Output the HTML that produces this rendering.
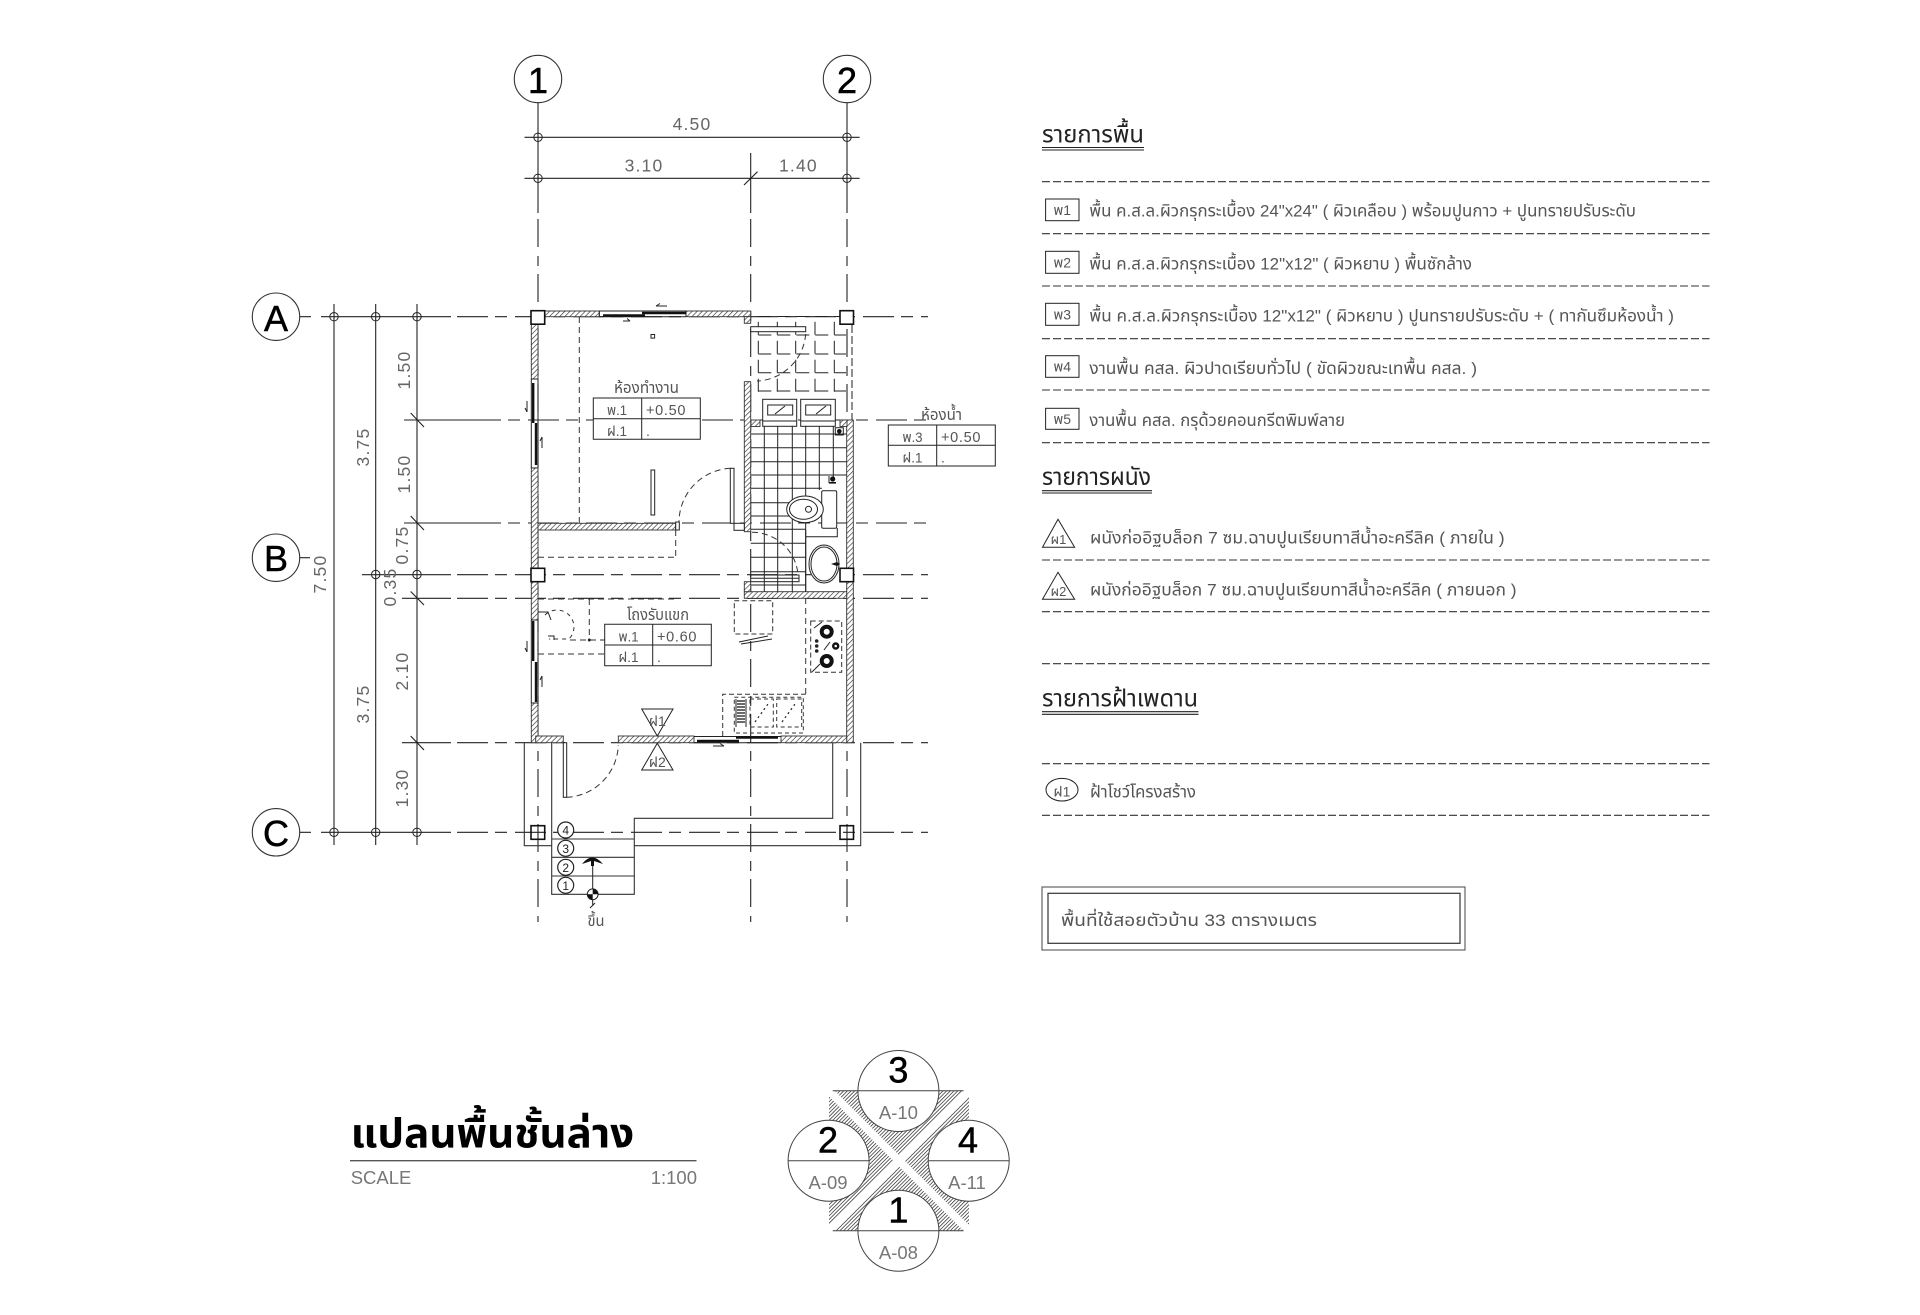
<!DOCTYPE html>
<html lang="th"><head><meta charset="utf-8"><title>แปลนพื้นชั้นล่าง</title>
<style>
html,body{margin:0;padding:0;background:#fff;width:1920px;height:1315px;overflow:hidden}
svg{display:block}
text{font-family:"Liberation Sans","Noto Sans Thai","Loma","Garuda","Norasi","Waree","Tlwg Typo","DejaVu Sans","Noto Sans CJK SC",sans-serif;fill:#555}
.l{fill:none;stroke:#333;stroke-width:1.1}
.k{fill:none;stroke:#222;stroke-width:1}
.g{fill:none;stroke:#222;stroke-width:1.1}
.gh{stroke-dasharray:31 7 12 8}
.gv{stroke-dasharray:28 9 10 8}
.d{fill:none;stroke:#333;stroke-width:1;stroke-dasharray:6 4}
.ld{fill:none;stroke:#333;stroke-width:1.1;stroke-dasharray:8 3}
.w{fill:url(#h);stroke:#333;stroke-width:.9}
.dim{font-size:17.5px;fill:#666;text-anchor:middle;letter-spacing:1.2px}
.big{font-size:36px;fill:#000;text-anchor:middle;stroke:#000;stroke-width:.5}
.t{font-size:17px;fill:#555}
.h{font-size:24px;fill:#222}
.cell{font-size:14px;fill:#444}
.mid{text-anchor:middle}
.b{fill:#111;stroke:#111}
</style></head><body>
<svg xmlns="http://www.w3.org/2000/svg" width="1920" height="1315" viewBox="0 0 1920 1315">
<defs>
<pattern id="h" width="3.6" height="3.6" patternUnits="userSpaceOnUse" patternTransform="rotate(45)"><rect width="3.6" height="3.6" fill="#fff"/><line x1="0" y1="0" x2="0" y2="3.6" stroke="#333" stroke-width="1.3"/></pattern>
<pattern id="h2" width="2.6" height="2.6" patternUnits="userSpaceOnUse" patternTransform="rotate(45)"><rect width="2.6" height="2.6" fill="#fff"/><line x1="0" y1="0" x2="0" y2="2.6" stroke="#333" stroke-width="1.5"/></pattern>
</defs>
<rect width="1920" height="1315" fill="#fff"/>

<!-- grid lines: horizontal -->
<g class="g">
<path d="M300 316.7H311M321 316.7H451" />
<path class="gh" d="M451 316.7H928" stroke-dashoffset="-6"/>
<path d="M404 420H470"/><path class="gh" d="M470 420H928"/>
<path d="M404 523H470"/><path class="gh" d="M470 523H928"/>
<path d="M300 557.7H310M310 557.7"/>
<path d="M362 574.7H451"/><path class="gh" d="M451 574.7H928" stroke-dashoffset="-6"/>
<path d="M402 598.3H451"/><path class="gh" d="M451 598.3H928" stroke-dashoffset="-6"/>
<path d="M402 742.7H451"/><path class="gh" d="M451 742.7H928" stroke-dashoffset="-6"/>
<path d="M300 832.3H311M321 832.3H451"/>
<path class="gh" d="M451 832.3H928" stroke-dashoffset="-6"/>
<!-- vertical -->
<path d="M538 103V213"/><path class="gv" d="M538 213V922" stroke-dashoffset="-6"/>
<path d="M847 103V213"/><path class="gv" d="M847 213V922" stroke-dashoffset="-6"/>
<path d="M750.7 153V213"/><path class="gv" d="M750.7 213V922" stroke-dashoffset="-6"/>
<!-- dims -->
<path d="M524.5 137.3H859.6M524.5 178.3H859.6"/>
<path d="M334 304V845M375.7 304V845M417 304V845"/>
<path d="M744 185L757.5 171.7M410.7 413L424 427M410.7 516L424 530M410.7 591.5L424 605M410.7 736L424 750"/>
</g>
<g class="k" stroke-width=".9">
<circle cx="538" cy="137.3" r="4.2"/><circle cx="847" cy="137.3" r="4.2"/><circle cx="538" cy="178.3" r="4.2"/><circle cx="847" cy="178.3" r="4.2"/>
<circle cx="334" cy="316.7" r="4.2"/><circle cx="375.7" cy="316.7" r="4.2"/><circle cx="417" cy="316.7" r="4.2"/>
<circle cx="375.7" cy="574.5" r="4.2"/><circle cx="417" cy="574.5" r="4.2"/>
<circle cx="334" cy="832.3" r="4.2"/><circle cx="375.7" cy="832.3" r="4.2"/><circle cx="417" cy="832.3" r="4.2"/>
</g>
<!-- bubbles -->
<g fill="#fff" stroke="#333" stroke-width="1.1">
<circle cx="538" cy="79" r="23.7"/><circle cx="847" cy="79" r="23.7"/>
<circle cx="276" cy="316.7" r="23.7"/><circle cx="276" cy="557.7" r="23.7"/><circle cx="276" cy="832.3" r="23.7"/>
</g>
<text class="big" x="538" y="93">1</text><text class="big" x="847" y="93">2</text>
<text class="big" x="276" y="331">A</text><text class="big" x="276" y="571">B</text><text class="big" x="276" y="846">C</text>

<!-- dimension text -->
<text class="dim" x="692" y="130">4.50</text>
<text class="dim" x="644" y="171.7">3.10</text>
<text class="dim" x="798.4" y="171.7">1.40</text>
<text class="dim" transform="translate(326,574) rotate(-90)">7.50</text>
<text class="dim" transform="translate(369,447) rotate(-90)">3.75</text>
<text class="dim" transform="translate(369,704) rotate(-90)">3.75</text>
<text class="dim" transform="translate(410,370) rotate(-90)">1.50</text>
<text class="dim" transform="translate(410,474) rotate(-90)">1.50</text>
<text class="dim" transform="translate(408,545) rotate(-90)">0.75</text>
<text class="dim" transform="translate(396,587) rotate(-90)">0.35</text>
<text class="dim" transform="translate(408,671) rotate(-90)">2.10</text>
<text class="dim" transform="translate(408,788) rotate(-90)">1.30</text>

<!-- bathroom tiles lower -->
<g class="k" stroke="#222">
<path d="M764.3 426V591.7M777.7 426V591.7M792.3 426V591.7M805.7 426V591.7M819.3 426V490M833.3 426V480"/>
<path d="M750.7 434H846.7M750.7 447.7H846.7M750.7 461.7H846.7M750.7 475H846.7M750.7 488.3H822M750.7 502.7H790M750.7 516H790M750.7 529.3H805.7M750.7 543.3H805.7M750.7 557.3H805.7M750.7 571.7H805.7M750.7 585H805.7"/>
<!-- upper bathroom tiles -->
<path stroke-dasharray="13 6" d="M758.3 321.7V392M777.3 321.7V392M795.7 321.7V392M815 321.7V392M834.3 321.7V392"/>
<path stroke-dasharray="13 6" d="M758.3 316.5H846M758.3 335H846M758.3 354H846M758.3 372.7H846M758.3 391H846"/>
<path stroke-dasharray="8 3" d="M852 325V420"/>
</g>
<!-- walls -->
<g class="w">
<rect x="531.3" y="324" width="6.7" height="55"/>
<rect x="531.3" y="468" width="6.7" height="100"/>
<rect x="531.3" y="581.7" width="6.7" height="38.3"/>
<rect x="531.3" y="703" width="6.7" height="39.7"/>
<rect x="544.7" y="311" width="54.6" height="5.7"/>
<rect x="686" y="311" width="64.7" height="5.7"/>
<rect x="744.3" y="316.7" width="6.4" height="6.6"/>
<rect x="744.3" y="381.7" width="6.4" height="150"/>
<rect x="538" y="523.3" width="137.7" height="6.7"/>
<rect x="846.7" y="420" width="6.6" height="149"/>
<rect x="846.7" y="581.7" width="6.6" height="161"/>
<rect x="751" y="420" width="9" height="6.5"/>
<rect x="840" y="420" width="7" height="6.5"/>
<rect x="744.3" y="591.7" width="102.4" height="6.6"/>
<rect x="744.3" y="581.7" width="6.4" height="10"/>
<rect x="535.7" y="736" width="27.6" height="6.7"/>
<rect x="618.3" y="736" width="75.7" height="6.7"/>
<rect x="781" y="736" width="65.7" height="6.7"/>
</g>
<g class="k">
<rect x="675.7" y="522" width="3.6" height="8" fill="#fff"/>
<rect x="734" y="523.3" width="10.3" height="7" fill="#fff"/>
<path d="M531.3 379H538M531.3 468H538M531.3 620H538M531.3 703H538"/>
</g>
<!-- columns -->
<g fill="none" stroke="#111" stroke-width="1.6">
<rect x="531" y="310.7" width="13.7" height="13.5" fill="#fff"/>
<rect x="840" y="310.7" width="13.5" height="13.5" fill="#fff"/>
<rect x="531" y="568.3" width="13.7" height="13.4" fill="#fff"/>
<rect x="840" y="568.3" width="13.5" height="13.4" fill="#fff"/>
<rect x="531" y="825.7" width="13.7" height="13.6"/>
<rect x="840" y="825.7" width="13.5" height="13.6"/>
</g>
<!-- windows -->
<g class="k">
<path d="M599.3 311H686M599.3 316.7H686M599.3 311V316.7M686 311V316.7"/>
<path d="M531.3 379V468M538 379V468"/>
<path d="M531.3 620V703M538 620V703"/>
<path d="M694 736.5H781M694 742.7H781"/>
</g>
<g fill="none" stroke="#111" stroke-width="2.4">
<path d="M603 315.4H645" /><path d="M642 313H686" />
<path d="M533.2 383V423"/><path d="M536 423V465"/>
<path d="M533.2 621V661"/><path d="M536 662V702"/>
<path d="M697 741H739"/><path d="M736 737.5H778"/>
</g>
<g class="k">
<path d="M656 306H667M656 306L660 303.5M623 321H630M627 318.5L630 321"/>
<path d="M527 401V412M527 412L525 408M542 437V448M542 437L540 441"/>
<path d="M527 641V652M527 652L525 648M542 676V687M542 676L540 680"/>
<path d="M713 746H724M720 743.5L724 746"/>
</g>
<!-- doors -->
<g class="k">
<rect x="563.3" y="742.7" width="3.4" height="54.6" fill="#fff"/>
<rect x="730.3" y="468.3" width="3.7" height="55" fill="#fff"/>
<rect x="750.7" y="326.7" width="55" height="5" fill="#fff"/>
<rect x="750.7" y="575" width="48.3" height="6.7" fill="none"/>
<path d="M750.7 578.3H799"/>
</g>
<g>
<path class="d" d="M566.7 797.3A54 54 0 0 0 618.3 745"/>
<path class="d" d="M730.3 468.3A54 54 0 0 0 679 522"/>
<path class="d" d="M752 532.3A46 46 0 0 1 798 575"/>
<path class="d" d="M805.7 334A51 51 0 0 1 757 381"/>
</g>
<!-- dashed room lines -->
<path class="d" d="M579.3 317V523M675.7 530V557.3M538 557.3H675.7M538 599H678M589.3 599V640M570 640H605M538 654H604M805.7 598V694"/>
<path class="d" style="stroke-dasharray:5 3" d="M722.7 736V694.3H805.7"/>
<!-- small items -->
<rect class="k" x="651" y="334.5" width="3.6" height="3.6"/>
<rect class="k" x="651" y="470" width="3.7" height="45"/>
<!-- sinks -->
<g class="k" fill="#fff">
<rect x="762.7" y="399.3" width="34" height="27" fill="#fff"/>
<rect x="800.7" y="399.3" width="34.6" height="27" fill="#fff"/>
<rect x="767.7" y="405" width="25" height="10"/>
<rect x="805.7" y="405" width="25" height="10"/>
<path d="M775 414L785 406M816 414L826 406M762.7 421H796.7M800.7 421H835.3"/>
<rect x="835.3" y="427.7" width="8" height="7.3"/>
</g>
<circle cx="839.3" cy="431.3" r="2.3" fill="#111"/>
<!-- toilet -->
<g class="k">
<rect x="821.7" y="490.7" width="15" height="37.6" rx="1.5" fill="#fff"/>
<ellipse cx="805" cy="509.3" rx="18.3" ry="13.3" fill="#fff"/>
<ellipse cx="803.5" cy="509.3" rx="14" ry="10"/>
<circle cx="808.5" cy="509.3" r="3"/>
<path d="M805.7 530V591.7M805.7 536.7H837.3V528"/>
<ellipse cx="824" cy="564" rx="15" ry="19" fill="#fff"/>
<ellipse cx="824" cy="564" rx="13" ry="17"/>
</g>
<g fill="#111">
<circle cx="832.7" cy="479" r="2.6"/><rect x="829" y="482" width="7" height="1.6"/>
<path d="M831 564l6-2 3 2-3 2z"/>
</g>
<path class="k" d="M829 476V483"/>
<!-- kitchen -->
<path class="d" style="stroke-dasharray:5 3" d="M734.3 600.7H772.7V634H734.3ZM810.7 621H841.7V672.3H810.7Z"/>
<path class="k" d="M739 642L768 636M741 644L772 639"/>
<g fill="none" stroke="#111">
<circle cx="826.7" cy="631.7" r="5" stroke-width="4"/><circle cx="826.7" cy="661" r="5" stroke-width="4"/><circle cx="835.7" cy="646" r="2.5" stroke-width="2.4"/>
</g>
<g fill="#222"><circle cx="816.7" cy="641" r="1.8"/><circle cx="816.7" cy="646" r="1.8"/><circle cx="816.7" cy="651" r="1.8"/></g>
<path class="k" stroke="#666" d="M814 628L822 622M812 672L820 664M824 650L830 642"/>
<!-- kitchen sink -->
<path class="d" style="stroke-dasharray:4 3" d="M734.3 697.3H803.3V733H734.3ZM750 699H773.3V727H750ZM776.7 699H801.7V727H776.7Z"/>
<g stroke="#111" stroke-width="1.2"><path d="M737 701H745M737 704H745M737 707H745M737 710H745M737 713H745M737 716H745M737 719H745M737 722H745"/></g>
<path class="k" d="M736 699V727M746 699V727"/>
<path stroke="#222" stroke-width="1.2" stroke-dasharray="2 3" d="M755 722L768 704M782 722L795 704"/>
<!-- left bath fixture -->
<path class="d" style="stroke-dasharray:4 4" d="M545 615A15 15 0 1 1 569 639H549"/>
<path class="k" d="M538 612H548L551 620M548 636H554V640"/>
<circle cx="589.3" cy="640" r="1.5" fill="#222"/>
<!-- porch -->
<g class="l">
<path d="M524.3 742.7V845.7H551.7M634.3 845.7H860.7V742.7"/>
<path d="M551.7 742.7V894.3H634.3V818.3H832.7V742.7"/>
<path d="M551.7 839H634.3M551.7 857.3H634.3M551.7 876H634.3"/>
</g>
<g fill="#fff" stroke="#222" stroke-width="1.2">
<circle cx="565.7" cy="830" r="8"/><circle cx="565.7" cy="848.3" r="8"/><circle cx="565.7" cy="867.3" r="8"/><circle cx="565.7" cy="885.3" r="8"/>
</g>
<g font-size="12" text-anchor="middle"><text x="565.7" y="834.5" style="fill:#222">4</text><text x="565.7" y="852.8" style="fill:#222">3</text><text x="565.7" y="871.8" style="fill:#222">2</text><text x="565.7" y="889.8" style="fill:#222">1</text></g>
<path class="k" d="M592.7 860V889"/>
<path fill="#111" d="M582 864Q592 851 603 864L594 861V866H591V861Z"/>
<circle cx="592.7" cy="894.3" r="5.4" fill="#fff" stroke="#222"/>
<path fill="#111" d="M592.7 888.9A5.4 5.4 0 0 1 598.1 894.3H592.7ZM592.7 894.3V899.7A5.4 5.4 0 0 1 587.3 894.3Z"/>
<path class="k" d="M592.7 899.7V906M590 908L595 903"/>
<text x="596" y="926" class="mid" font-size="15" textLength="17" lengthAdjust="spacingAndGlyphs">ขึ้น</text>

<!-- triangles wall tags -->
<g class="k" fill="#fff">
<path d="M641.7 709H673L657.3 736Z"/>
<path d="M657.3 743.3L673 770H641.7Z"/>
</g>
<text x="657.3" y="726" class="mid" font-size="14">ฝ1</text>
<text x="657.3" y="767" class="mid" font-size="14">ฝ2</text>

<!-- room tables -->
<g class="k">
<path fill="#fff" d="M593.3 398H700.3V439.3H593.3Z"/><path d="M593.3 418.7H700.3M641.7 398V439.3"/>
<path fill="#fff" d="M888.3 425H995.3V466H888.3Z"/><path d="M888.3 445.3H995.3M936.7 425V466"/>
<path fill="#fff" d="M604.7 624.3H711.3V665.7H604.7Z"/><path d="M604.7 645H711.3M652.7 624.3V665.7"/>
</g>
<g class="cell">
<text x="617" y="415" class="mid" font-size="14" textLength="20" lengthAdjust="spacingAndGlyphs">พ.1</text><text x="646" y="415" font-size="14.5" letter-spacing=".7">+0.50</text>
<text x="617" y="436" class="mid" textLength="20" lengthAdjust="spacingAndGlyphs">ฝ.1</text><text x="646" y="436">.</text>
<text x="912.5" y="442" class="mid" textLength="20" lengthAdjust="spacingAndGlyphs">พ.3</text><text x="941" y="442" font-size="14.5" letter-spacing=".7">+0.50</text>
<text x="912.5" y="462.5" class="mid" textLength="20" lengthAdjust="spacingAndGlyphs">ฝ.1</text><text x="941" y="462.5">.</text>
<text x="628.5" y="641.5" class="mid" textLength="20" lengthAdjust="spacingAndGlyphs">พ.1</text><text x="657" y="641.5" font-size="14.5" letter-spacing=".7">+0.60</text>
<text x="628.5" y="662" class="mid" textLength="20" lengthAdjust="spacingAndGlyphs">ฝ.1</text><text x="657" y="662">.</text>
</g>
<text x="614" y="393" font-size="16" textLength="65" lengthAdjust="spacingAndGlyphs">ห้องทำงาน</text>
<text x="921" y="420" font-size="16" textLength="41" lengthAdjust="spacingAndGlyphs">ห้องน้ำ</text>
<text x="627" y="620" font-size="16" textLength="62" lengthAdjust="spacingAndGlyphs">โถงรับแขก</text>

<!-- floor list -->
<text class="h" x="1042" y="142.5" textLength="102" lengthAdjust="spacingAndGlyphs">รายการพื้น</text>
<path d="M1042 147.5H1144M1042 150H1144" stroke="#222" stroke-width="1.1" fill="none"/>
<path class="ld" d="M1042 181.7H1709.5M1042 233.7H1709.5M1042 286H1709.5M1042 338.7H1709.5M1042 390H1709.5M1042 442.7H1709.5"/>
<g class="k" stroke="#444">
<rect x="1045.6" y="199" width="33.4" height="21.7"/><rect x="1045.6" y="251.3" width="33.4" height="22"/><rect x="1045.6" y="303.3" width="33.4" height="22"/><rect x="1045.6" y="355.7" width="33.4" height="21.6"/><rect x="1045.6" y="408.3" width="33.4" height="21"/>
</g>
<g font-size="14" text-anchor="middle">
<text x="1062.3" y="215">พ1</text><text x="1062.3" y="267.5">พ2</text><text x="1062.3" y="319.5">พ3</text><text x="1062.3" y="371.5">พ4</text><text x="1062.3" y="424">พ5</text>
</g>
<text class="t" x="1089.4" y="216.7" textLength="546.6" lengthAdjust="spacingAndGlyphs">พื้น ค.ส.ล.ผิวกรุกระเบื้อง 24"x24"  ( ผิวเคลือบ ) พร้อมปูนกาว + ปูนทรายปรับระดับ</text>
<text class="t" x="1089.4" y="269.3" textLength="382.6" lengthAdjust="spacingAndGlyphs">พื้น ค.ส.ล.ผิวกรุกระเบื้อง 12"x12"  ( ผิวหยาบ )  พื้นซักล้าง</text>
<text class="t" x="1089.4" y="321.7" textLength="584.6" lengthAdjust="spacingAndGlyphs">พื้น ค.ส.ล.ผิวกรุกระเบื้อง 12"x12"  ( ผิวหยาบ )  ปูนทรายปรับระดับ + ( ทากันซึมห้องน้ำ )</text>
<text class="t" x="1089.4" y="374" textLength="387.6" lengthAdjust="spacingAndGlyphs">งานพื้น คสล. ผิวปาดเรียบทั่วไป  ( ขัดผิวขณะเทพื้น คสล. )</text>
<text class="t" x="1089.4" y="426" textLength="255.6" lengthAdjust="spacingAndGlyphs">งานพื้น คสล. กรุด้วยคอนกรีตพิมพ์ลาย</text>

<!-- wall list -->
<text class="h" x="1042" y="485" textLength="109" lengthAdjust="spacingAndGlyphs">รายการผนัง</text>
<path d="M1042 490.7H1152M1042 493H1152" stroke="#222" stroke-width="1.1" fill="none"/>
<path class="k" stroke="#444" d="M1058 519.3L1074.6 547.3H1042.5ZM1058 572.3L1074.6 599.3H1042.5Z"/>
<text x="1058.5" y="544" class="mid" font-size="13">ผ1</text>
<text x="1058.5" y="596" class="mid" font-size="13">ผ2</text>
<text class="t" x="1090" y="543.3" textLength="414.6" lengthAdjust="spacingAndGlyphs">ผนังก่ออิฐบล็อก 7 ซม.ฉาบปูนเรียบทาสีน้ำอะครีลิค   ( ภายใน )</text>
<text class="t" x="1090" y="595.7" textLength="426.6" lengthAdjust="spacingAndGlyphs">ผนังก่ออิฐบล็อก 7 ซม.ฉาบปูนเรียบทาสีน้ำอะครีลิค   ( ภายนอก )</text>
<path class="ld" d="M1042 560H1709.5M1042 611.7H1709.5M1042 663.7H1709.5M1042 763.7H1709.5M1042 815.3H1709.5"/>

<!-- ceiling -->
<text class="h" x="1042" y="706.7" textLength="156" lengthAdjust="spacingAndGlyphs">รายการฝ้าเพดาน</text>
<path d="M1042 711.7H1198.5M1042 714.3H1198.5" stroke="#222" stroke-width="1.1" fill="none"/>
<ellipse class="k" stroke="#444" cx="1062" cy="789.7" rx="16" ry="11.3"/>
<text x="1062" y="796.5" class="mid" font-size="14">ฝ1</text>
<text class="t" x="1090" y="797.3" textLength="106" lengthAdjust="spacingAndGlyphs">ฝ้าโชว์โครงสร้าง</text>

<!-- area box -->
<rect x="1042" y="887" width="423" height="63" fill="none" stroke="#555" stroke-width="1.1"/>
<rect x="1048" y="893.3" width="412" height="50" fill="none" stroke="#333" stroke-width="1.2"/>
<text class="t" x="1061" y="926" textLength="256" lengthAdjust="spacingAndGlyphs">พื้นที่ใช้สอยตัวบ้าน  33  ตารางเมตร</text>

<!-- title -->
<text x="350.7" y="1147.3" font-size="41" font-weight="bold" style="fill:#000" textLength="283.5" lengthAdjust="spacingAndGlyphs">แปลนพื้นชั้นล่าง</text>
<path d="M350 1160.7H696.5" stroke="#555" stroke-width="1.3"/>
<text x="350.7" y="1184" font-size="18.5" style="fill:#777">SCALE</text>
<text x="697" y="1184" font-size="18.5" text-anchor="end" style="fill:#777">1:100</text>

<!-- section key -->
<path d="M832.7 1090.7H963.6L969 1096V1225L963.6 1230.7H832.7L829 1225V1096Z" fill="url(#h2)"/>
<path d="M829 1090.7L969 1230.7M969 1090.7L829 1230.7" stroke="#fff" stroke-width="8" fill="none"/>
<g stroke="#444" stroke-width="1" fill="#fff">
<circle cx="898.4" cy="1091" r="40.5"/><circle cx="828.6" cy="1160.7" r="40.5"/><circle cx="968.7" cy="1160.7" r="40.5"/><circle cx="898.4" cy="1230.7" r="40.5"/>
<path d="M832.7 1090.7H963.6M832.7 1230.7H963.6M788 1160.7H869M928 1160.7H1009" fill="none"/>
</g>
<text class="big" x="898.4" y="1082.7">3</text><text class="big" x="828" y="1152.7">2</text><text class="big" x="968" y="1152.7">4</text><text class="big" x="898.4" y="1222.7">1</text>
<g font-size="18.5" text-anchor="middle">
<text x="898.4" y="1119" style="fill:#777">A-10</text><text x="828" y="1189" style="fill:#777">A-09</text><text x="967" y="1189" style="fill:#777">A-11</text><text x="898.4" y="1259" style="fill:#777">A-08</text>
</g>
</svg>
</body></html>
